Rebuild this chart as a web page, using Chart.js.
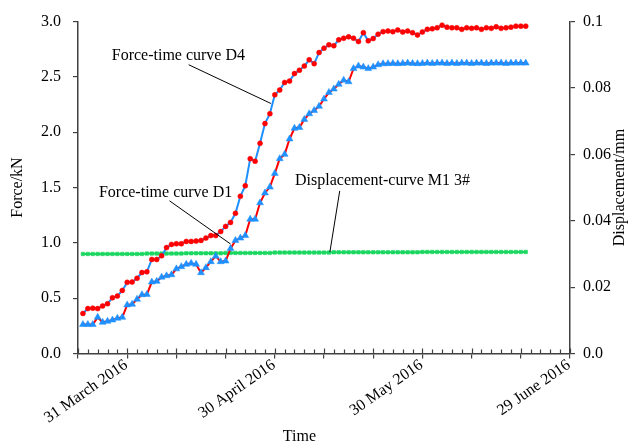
<!DOCTYPE html>
<html>
<head>
<meta charset="utf-8">
<script src="https://cdn.jsdelivr.net/npm/chart.js@4/dist/chart.umd.min.js"></script>
<style>
  html, body { margin: 0; padding: 0; background: #ffffff; }
  #wrap { width: 640px; height: 448px; }
</style>
</head>
<body>
<div id="wrap"><canvas id="c" width="640" height="448"></canvas></div>
<script>
// Day number counted from 21 March 2016 (day 0)
const days = [
  1, 2, 3, 4, 5, 6, 7, 8, 9, 10, 11, 12, 13, 14, 15, 16, 17, 18, 19, 20,
  21, 22, 23, 24, 25, 26, 27, 28, 29, 30, 31, 32, 33, 34, 35, 36, 37, 38, 39, 40,
  41, 42, 43, 44, 45, 46, 47, 48, 49, 50, 51, 52, 53, 54, 55, 56, 57, 58, 59, 60,
  61, 62, 63, 64, 65, 66, 67, 68, 69, 70, 71, 72, 73, 74, 75, 76, 77, 78, 79, 80,
  81, 82, 83, 84, 85, 86, 87, 88, 89, 90, 91
];

// Anchor force D4 (kN)
const forceD4 = [
  0.362, 0.406, 0.410, 0.406, 0.430, 0.450, 0.504, 0.519, 0.570, 0.643,
  0.646, 0.680, 0.732, 0.738, 0.850, 0.850, 0.883, 0.957, 0.986, 0.992,
  0.992, 1.013, 1.013, 1.016, 1.022, 1.043, 1.066, 1.066, 1.102, 1.149,
  1.185, 1.267, 1.421, 1.516, 1.761, 1.738, 1.900, 2.078, 2.167, 2.338,
  2.382, 2.450, 2.462, 2.530, 2.560, 2.598, 2.655, 2.620, 2.720, 2.760,
  2.790, 2.782, 2.835, 2.850, 2.862, 2.850, 2.820, 2.900, 2.826, 2.847,
  2.886, 2.909, 2.915, 2.909, 2.924, 2.906, 2.915, 2.900, 2.879, 2.906,
  2.930, 2.935, 2.944, 2.968, 2.950, 2.944, 2.944, 2.930, 2.944, 2.939,
  2.944, 2.930, 2.944, 2.939, 2.953, 2.939, 2.944, 2.950, 2.959, 2.959,
  2.959
];

// Anchor force D1 (kN)
const forceD1 = [
  0.262, 0.262, 0.262, 0.327, 0.282, 0.291, 0.303, 0.318, 0.327, 0.439,
  0.445, 0.490, 0.531, 0.534, 0.646, 0.652, 0.690, 0.703, 0.712, 0.765,
  0.785, 0.806, 0.815, 0.806, 0.730, 0.776, 0.830, 0.880, 0.830, 0.836,
  0.948, 1.022, 1.043, 1.066, 1.214, 1.214, 1.362, 1.451, 1.504, 1.628,
  1.761, 1.800, 1.939, 2.036, 2.043, 2.116, 2.167, 2.196, 2.234, 2.300,
  2.360, 2.391, 2.433, 2.471, 2.456, 2.575, 2.598, 2.589, 2.575, 2.589,
  2.610, 2.619, 2.620, 2.622, 2.620, 2.622, 2.625, 2.622, 2.620, 2.622,
  2.625, 2.622, 2.625, 2.625, 2.622, 2.625, 2.622, 2.625, 2.625, 2.622,
  2.625, 2.625, 2.622, 2.625, 2.625, 2.625, 2.622, 2.625, 2.625, 2.625,
  2.625
];

// Displacement of point M1 3# (mm)
const dispM1 = [
  0.0300, 0.0300, 0.0300, 0.0300, 0.0300, 0.0300, 0.0300, 0.0300, 0.0300, 0.0300,
  0.0300, 0.0300, 0.0300, 0.0301, 0.0301, 0.0301, 0.0301, 0.0301, 0.0301, 0.0301,
  0.0301, 0.0302, 0.0302, 0.0302, 0.0302, 0.0302, 0.0302, 0.0302, 0.0302, 0.0303,
  0.0303, 0.0303, 0.0303, 0.0303, 0.0303, 0.0303, 0.0303, 0.0303, 0.0303, 0.0304,
  0.0304, 0.0304, 0.0304, 0.0304, 0.0304, 0.0304, 0.0304, 0.0304, 0.0304, 0.0304,
  0.0304, 0.0305, 0.0305, 0.0305, 0.0305, 0.0305, 0.0305, 0.0305, 0.0305, 0.0305,
  0.0305, 0.0305, 0.0305, 0.0305, 0.0305, 0.0305, 0.0305, 0.0305, 0.0305, 0.0306,
  0.0306, 0.0306, 0.0306, 0.0306, 0.0306, 0.0306, 0.0306, 0.0306, 0.0306, 0.0306,
  0.0306, 0.0306, 0.0306, 0.0306, 0.0306, 0.0306, 0.0306, 0.0306, 0.0306, 0.0306,
  0.0306
];

// Date labels on the time axis
const dateTickDays = [10, 40, 70, 100];
const dateTickLabels = ['31 March 2016', '30 April 2016', '30 May 2016', '29 June 2016'];

// Curve captions: [text, textDay, textForce, fromDay, fromForce, toDay, toForce]
const captions = [
  ['Force-time curve D4', 20.4, 2.69, 22.5, 2.61, 39.2, 2.26],
  ['Force-time curve D1', 17.8, 1.45, 18.6, 1.38, 31.0, 0.99],
  ['Displacement-curve M1 3#', 61.9, 1.56, 53.2, 1.47, 51.2, 0.918]
];

const SERIF = '"Liberation Serif", "Times New Roman", serif';
const AXIS_COLOR = '#404040';
const BLUE = '#1E90FF';
const RED = '#FF0000';
const GREEN = '#1BD760';

const toPoints = (ys) => days.map((d, i) => ({ x: d, y: ys[i] }));

const axisDecor = {
  id: 'axisDecor',
  afterDraw(chart) {
    const { ctx, scales } = chart;
    const xs = scales.x, ys = scales.y;
    const bottom = ys.getPixelForValue(0);
    ctx.save();
    ctx.strokeStyle = AXIS_COLOR;
    ctx.lineWidth = 1.2;
    // small inside ticks every 2 days, major ticks reach through the axis
    for (let d = 0; d <= 100; d += 2) {
      const px = Math.round(xs.getPixelForValue(d)) + 0.5;
      const len = d % 10 === 0 ? 5 : 4;
      ctx.beginPath();
      ctx.moveTo(px, bottom);
      ctx.lineTo(px, bottom - len);
      ctx.stroke();
    }
    // captions with leader lines
    ctx.fillStyle = '#000';
    ctx.font = '16px ' + SERIF;
    ctx.textAlign = 'center';
    ctx.textBaseline = 'middle';
    ctx.strokeStyle = '#000';
    ctx.lineWidth = 1;
    captions.forEach(([text, tx, ty, fx, fy, ex, ey]) => {
      ctx.fillText(text, xs.getPixelForValue(tx), ys.getPixelForValue(ty));
      ctx.beginPath();
      ctx.moveTo(xs.getPixelForValue(fx), ys.getPixelForValue(fy));
      ctx.lineTo(xs.getPixelForValue(ex), ys.getPixelForValue(ey));
      ctx.stroke();
    });
    // time axis title
    ctx.fillText('Time', xs.getPixelForValue(45), 437);
    // right axis title, reading upwards like the left one
    ctx.translate(620, ys.getPixelForValue(1.5));
    ctx.rotate(-Math.PI / 2);
    ctx.fillText('Displacement/mm', 0, 0);
    ctx.restore();
  }
};

new Chart(document.getElementById('c'), {
  type: 'line',
  data: {
    datasets: [
      {
        label: 'Force-time curve D4',
        data: toPoints(forceD4),
        yAxisID: 'y',
        borderColor: BLUE,
        borderWidth: 2,
        pointStyle: 'circle',
        pointRadius: 2.5,
        pointBackgroundColor: RED,
        pointBorderColor: RED,
        pointBorderWidth: 0.5,
        tension: 0
      },
      {
        label: 'Force-time curve D1',
        data: toPoints(forceD1),
        yAxisID: 'y',
        borderColor: RED,
        borderWidth: 2,
        pointStyle: 'triangle',
        pointRadius: 4,
        pointBackgroundColor: BLUE,
        pointBorderColor: BLUE,
        pointBorderWidth: 0.5,
        tension: 0
      },
      {
        label: 'Displacement-curve M1 3#',
        data: toPoints(dispM1),
        yAxisID: 'y1',
        borderColor: GREEN,
        borderWidth: 2,
        pointStyle: 'rect',
        pointRadius: 2.5,
        pointBackgroundColor: GREEN,
        pointBorderColor: GREEN,
        pointBorderWidth: 0.5,
        tension: 0
      }
    ]
  },
  options: {
    responsive: false,
    animation: false,
    events: [],
    layout: { padding: { top: 15, left: 0, right: 0, bottom: 0 } },
    plugins: { legend: { display: false }, tooltip: { enabled: false } },
    scales: {
      x: {
        type: 'linear',
        position: 'bottom',
        min: 0,
        max: 100,
        afterFit: (s) => { s.height = 94.5; },
        ticks: {
          stepSize: 10,
          autoSkip: false,
          minRotation: 35,
          maxRotation: 35,
          padding: -3,
          labelOffset: -1,
          color: '#000',
          font: { family: SERIF, size: 16 },
          callback: (v) => {
            const i = dateTickDays.indexOf(v);
            return i >= 0 ? dateTickLabels[i] : '';
          }
        },
        grid: { drawOnChartArea: false, drawTicks: true, tickLength: 5, color: AXIS_COLOR, lineWidth: 1.2 },
        border: { display: true, color: AXIS_COLOR, width: 1.5 }
      },
      y: {
        position: 'left',
        min: 0,
        max: 3,
        afterFit: (s) => { s.width = 78; },
        ticks: {
          stepSize: 0.5,
          padding: 12,
          color: '#000',
          font: { family: SERIF, size: 16 },
          callback: (v) => v.toFixed(1)
        },
        title: { display: true, text: 'Force/kN', color: '#000', font: { family: SERIF, size: 16 }, padding: { top: 8, bottom: 0 } },
        grid: { drawOnChartArea: false, drawTicks: true, tickLength: 5, color: AXIS_COLOR, lineWidth: 1.2 },
        border: { display: true, color: AXIS_COLOR, width: 1.5 }
      },
      y1: {
        position: 'right',
        min: 0,
        max: 0.1,
        afterFit: (s) => { s.width = 70; },
        ticks: {
          stepSize: 0.02,
          padding: 8,
          color: '#000',
          font: { family: SERIF, size: 16 },
          callback: (v) => {
            const r = Math.round(v * 100) / 100;
            if (r === 0) return '0.0';
            if (r === 0.1) return '0.1';
            return r.toFixed(2);
          }
        },
        grid: { drawOnChartArea: false, drawTicks: true, tickLength: 5, color: AXIS_COLOR, lineWidth: 1.2 },
        border: { display: true, color: AXIS_COLOR, width: 1.5 }
      }
    }
  },
  plugins: [axisDecor]
});
</script>
</body>
</html>
